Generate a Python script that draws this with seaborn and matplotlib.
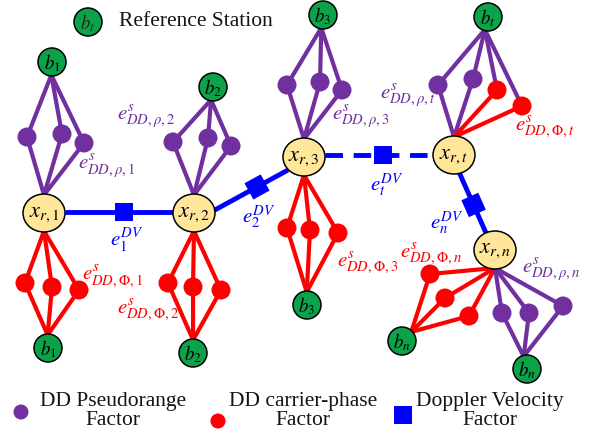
import numpy as np
import pandas as pd
import seaborn as sns
import matplotlib
matplotlib.use("Agg")
import matplotlib.pyplot as plt
from matplotlib.patches import Ellipse, Circle, Rectangle
import matplotlib.transforms as mtransforms

# ------------------------------------------------------------------ data
state_labels = [r'$x_{r,1}$', r'$x_{r,2}$', r'$x_{r,3}$', r'$x_{r,t}$', r'$x_{r,n}$']
state_x = [44, 194, 304, 454, 495]
state_y = [213, 213, 157, 155, 250]

station_labels = [r'$b_1$', r'$b_2$', r'$b_3$', r'$b_t$', r'$b_1$', r'$b_2$', r'$b_3$', r'$b_n$', r'$b_n$']
station_x = [52, 213, 323, 488, 48, 193, 307, 402, 527]
station_y = [62, 87, 15, 17, 348, 353, 305, 341, 369]

# factor groups: which station / state each group links
group_station = [0, 1, 2, 3, 4, 5, 6, 7, 8]
group_state = [0, 1, 2, 3, 0, 1, 2, 4, 4]
group_station_side = ['rho', 'rho', 'rho', 'rho', 'phi', 'phi', 'phi', 'phi', 'rho']
factor_x = [[27, 62, 84], [173, 208, 231], [287, 320, 342], [438, 473, 497, 522],
            [25, 52, 79], [168, 193, 221], [287, 310, 338], [430, 445, 469], [502, 529, 563]]
factor_y = [[137, 134, 143], [142, 138, 146], [85, 82, 90], [85, 79, 90, 106],
            [283, 287, 290], [283, 287, 290], [228, 230, 233], [274, 298, 316], [313, 313, 306]]
factor_kind = [['rho'] * 3, ['rho'] * 3, ['rho'] * 3, ['rho', 'rho', 'phi', 'phi'],
               ['phi'] * 3, ['phi'] * 3, ['phi'] * 3, ['phi'] * 3, ['rho'] * 3]

# Doppler velocity edges between consecutive states
dv_from = [0, 1, 2, 3]
dv_to = [1, 2, 3, 4]
dv_x0 = [65, 213, 325, 459]
dv_y0 = [212, 211, 155, 172]
dv_x1 = [173, 288, 433, 486]
dv_y1 = [212, 170, 155, 233]
dv_t = [0.546, 0.587, 0.537, 0.54]
dv_dashed = [False, False, True, False]

# labels
lab_text = [r'$e^{s}_{DD,\rho,1}$', r'$e^{s}_{DD,\rho,2}$', r'$e^{s}_{DD,\rho,3}$', r'$e^{s}_{DD,\rho,t}$',
            r'$e^{s}_{DD,\Phi,t}$', r'$e^{s}_{DD,\Phi,1}$', r'$e^{s}_{DD,\Phi,2}$', r'$e^{s}_{DD,\Phi,3}$',
            r'$e^{s}_{DD,\Phi,n}$', r'$e^{s}_{DD,\rho,n}$',
            r'$e^{DV}_{1}$', r'$e^{DV}_{2}$', r'$e^{DV}_{t}$', r'$e^{DV}_{n}$']
lab_x = [78, 117, 332, 380, 515, 82, 117, 337, 400, 522, 110, 242, 370, 430]
lab_y = [167, 117, 117, 96, 127, 277, 310, 263, 254, 270, 241, 217, 185, 223]
lab_kind = ['rho', 'rho', 'rho', 'rho', 'phi', 'phi', 'phi', 'phi', 'phi', 'rho', 'dv', 'dv', 'dv', 'dv']

legend_text = ['DD Pseudorange\nFactor', 'DD carrier-phase\nFactor', 'Doppler Velocity\nFactor']

# ------------------------------------------------------------------ style
sns.set_theme(style="white")
SERIF = ['Liberation Serif', 'DejaVu Serif']
plt.rcParams['font.family'] = SERIF
plt.rcParams['mathtext.fontset'] = 'stix'

PURPLE = '#7030A0'
RED = '#FF0000'
BLUE = '#0000FF'
GREEN = '#0BA24A'
YELLOW = '#FFE699'
TXT = '#141414'
colors = {'rho': PURPLE, 'phi': RED, 'dv': BLUE}

W, H = 594, 438
fig = plt.figure(figsize=(W / 100, H / 100), dpi=100)
ax = fig.add_axes([0, 0, 1, 1])
ax.set_xlim(0, W)
ax.set_ylim(H, 0)
ax.axis('off')

LW = 3.0
ST_R = 14
EL_W, EL_H = 42, 38


def px2pt(px):
    return px * 72 / 100

# ---- factor graph edges (station <-> factor <-> state)
rows = []
for g in range(len(group_station)):
    si, xi = group_station[g], group_state[g]
    sx, sy = station_x[si], station_y[si]
    cx, cy = state_x[xi], state_y[xi]
    d = np.array([cx - sx, cy - sy], float)
    d /= np.hypot(*d)
    apex_s = (sx + d[0] * (ST_R - 1), sy + d[1] * (ST_R - 1))
    apex_x = (cx, cy + (EL_H / 2 - 1) * (1 if sy > cy else -1))
    for fx, fy, k in zip(factor_x[g], factor_y[g], factor_kind[g]):
        ax.plot([apex_s[0], fx], [apex_s[1], fy], color=colors[group_station_side[g]],
                lw=LW, solid_capstyle='round', zorder=2)
        ax.plot([fx, apex_x[0]], [fy, apex_x[1]], color=colors[k],
                lw=LW, solid_capstyle='round', zorder=2)
        rows.append(dict(x=fx, y=fy, kind=k))

df = pd.DataFrame(rows)
sns.scatterplot(data=df, x='x', y='y', hue='kind', palette=colors, s=px2pt(19) ** 2,
                linewidth=0, legend=False, ax=ax, zorder=4)

# ---- Doppler edges
for i in range(len(dv_from)):
    x0, y0, x1, y1 = dv_x0[i], dv_y0[i], dv_x1[i], dv_y1[i]
    ls = (0, (3.6, 2.2)) if dv_dashed[i] else '-'
    ax.plot([x0, x1], [y0, y1], color=BLUE, lw=3.5, ls=ls, zorder=2,
            solid_capstyle='butt', dash_capstyle='butt')
    qx = x0 + dv_t[i] * (x1 - x0)
    qy = y0 + dv_t[i] * (y1 - y0)
    ang = np.degrees(np.arctan2(y1 - y0, x1 - x0))
    S = 18.5
    rect = Rectangle((qx - S / 2, qy - S / 2), S, S, facecolor=BLUE, edgecolor='none', zorder=4)
    rect.set_transform(mtransforms.Affine2D().rotate_deg_around(qx, qy, ang) + ax.transData)
    ax.add_patch(rect)

# ---- state nodes
for lab, x, y in zip(state_labels, state_x, state_y):
    ax.add_patch(Ellipse((x, y), EL_W, EL_H, facecolor=YELLOW, edgecolor='black', lw=1.1, zorder=5))
    ax.text(x, y + 1, lab, ha='center', va='center', fontsize=16, color='black', zorder=6)

# ---- stations
for lab, x, y in zip(station_labels, station_x, station_y):
    ax.add_patch(Circle((x, y), ST_R, facecolor=GREEN, edgecolor='black', lw=1.1, zorder=5))
    ax.text(x, y + 1, lab, ha='center', va='center', fontsize=13.5, color='black', zorder=6)

# ---- factor labels
for t, x, y, k in zip(lab_text, lab_x, lab_y, lab_kind):
    ax.text(x, y, t, ha='left', va='center', fontsize=15, color=colors[k], zorder=6)

# ---- legend
ax.add_patch(Circle((88, 22), ST_R, facecolor=GREEN, edgecolor='black', lw=1.1, zorder=5))
ax.text(88, 23, r'$b_t$', ha='center', va='center', fontsize=13.5, zorder=6)
ax.text(119, 22, 'Reference Station', ha='left', va='center', fontsize=15.5,
        color=TXT, family=SERIF)

ax.add_patch(Circle((21, 412), 7.5, facecolor=PURPLE, edgecolor='none'))
ax.add_patch(Circle((218, 421), 7.5, facecolor=RED, edgecolor='none'))
ax.add_patch(Rectangle((394, 406), 18, 18, facecolor=BLUE, edgecolor='none'))
for t, x in zip(legend_text, [113, 303, 490]):
    ax.text(x, 411, t, ha='center', va='center', fontsize=15.5, color=TXT,
            linespacing=1.05, family=SERIF)

fig.savefig('out.png', dpi=100)
